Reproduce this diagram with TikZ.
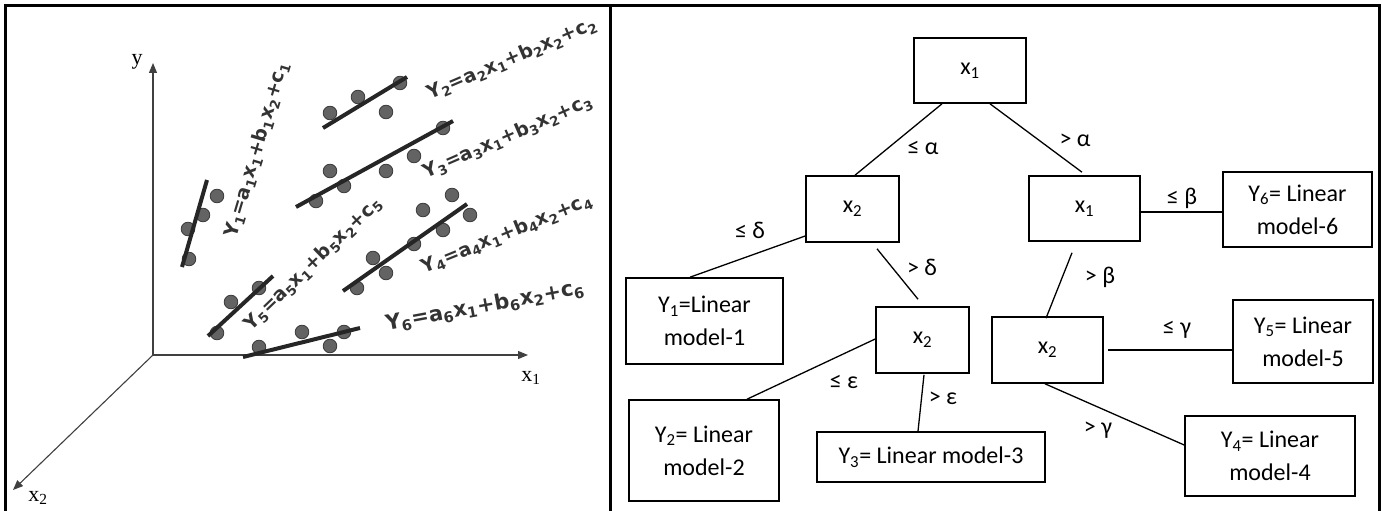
\documentclass[tikz,border=0pt]{standalone}
\usepackage{fontspec}
\setmainfont{Liberation Serif}
\newfontfamily\calib{Carlito}
\newfontfamily\eqf{DejaVu Sans}
\usetikzlibrary{arrows.meta,calc}
\definecolor{dotfill}{HTML}{636363}
\definecolor{dotline}{HTML}{3A3A3A}
\definecolor{fitcol}{HTML}{262626}
\definecolor{eqcol}{HTML}{333333}
\newcommand\ssb[1]{\textsubscript{#1}}
\tikzset{
  frameline/.style={line width=3pt, draw=black},
  axisln/.style={line width=1.1pt, draw=black!75, -{Triangle[length=10pt,width=8pt]}},
  dotsty/.style={fill=dotfill, draw=dotline, line width=0.8pt},
  fitln/.style={line width=4pt, draw=fitcol},
  eq/.style={font=\eqf\bfseries\fontsize{19}{22}\selectfont, text=eqcol, inner sep=0pt},
  box/.style={draw, line width=1.6pt, inner sep=0pt, align=center, font=\calib\fontsize{24}{33}\selectfont},
  conn/.style={line width=1.3pt},
  cond/.style={font=\calib\fontsize{24}{28}\selectfont, inner sep=0pt},
  axlabel/.style={font=\fontsize{22}{24}\selectfont, inner sep=0pt}
}
\begin{document}
\begin{tikzpicture}[x=1pt,y=-1pt]
\useasboundingbox (0,0) rectangle (1382,511);
% frames
\draw[frameline] (5,511) -- (5,6) -- (1379,6) -- (1379,511);
\draw[frameline] (610,6) -- (610,511);

% ---------- left panel ----------
\coordinate (O) at (153,355);
\coordinate (ytip) at (153,63);
\coordinate (x1tip) at (528,355);
\coordinate (x2tip) at (13,490);
\draw[axisln] (O) -- (ytip);
\draw[axisln] (O) -- (x1tip);
\draw[axisln] (O) -- (x2tip);
\node[axlabel] (ly) at (137,62) {y};
\node[axlabel] (lx1) at (531,378) {x\ssb{1}};
\node[axlabel] (lx2) at (38,498) {x\ssb{2}};

% dots
\foreach \p in {(217,196),(203,215),(188,229),(189,259),
  (330,113),(358,97),(386,112),(400,83),
  (330,171),(344,186),(316,201),(386,171),(414,156),(443,128),
  (423,210),(452,195),(470,215),(373,258),(386,273),(414,244),(443,230),(357,288),
  (217,333),(231,302),(259,288),
  (259,347),(302,332),(330,346),(344,332)}
  \filldraw[dotsty] \p circle (6.8);

% fitted lines
\draw[fitln] (207,180) -- (182,267);
\draw[fitln] (323,128) -- (407,77);
\draw[fitln] (296,207) -- (453,121);
\draw[fitln] (343,291) -- (467,204);
\draw[fitln] (208,336) -- (273,276);
\draw[fitln] (243,357) -- (360,328);

% equations
\node[eq, rotate=73.5] (eq1) at (257,150) {Y\ssb{1}=a\ssb{1}x\ssb{1}+b\ssb{1}x\ssb{2}+c\ssb{1}};
\node[eq, rotate=23] (eq2) at (512,59) {Y\ssb{2}=a\ssb{2}x\ssb{1}+b\ssb{2}x\ssb{2}+c\ssb{2}};
\node[eq, rotate=23.5] (eq3) at (508,137) {Y\ssb{3}=a\ssb{3}x\ssb{1}+b\ssb{3}x\ssb{2}+c\ssb{3}};
\node[eq, rotate=22] (eq4) at (507,234) {Y\ssb{4}=a\ssb{4}x\ssb{1}+b\ssb{4}x\ssb{2}+c\ssb{4}};
\node[eq, rotate=44] (eq5) at (313,264) {Y\ssb{5}=a\ssb{5}x\ssb{1}+b\ssb{5}x\ssb{2}+c\ssb{5}};
\node[eq, rotate=10.5, font=\eqf\bfseries\fontsize{21}{24}\selectfont] (eq6) at (485,306) {Y\ssb{6}=a\ssb{6}x\ssb{1}+b\ssb{6}x\ssb{2}+c\ssb{6}};

% ---------- right panel: tree ----------
\node[box, minimum width=112pt, minimum height=65pt] (root) at (970,70.5) {x\ssb{1}};
\node[box, minimum width=93pt, minimum height=66pt] (x2a) at (852.5,209) {x\ssb{2}};
\node[box, minimum width=111pt, minimum height=65pt] (x1b) at (1084.5,208.5) {x\ssb{1}};
\node[box, minimum width=149pt, minimum height=75pt] (y6) at (1297.5,209.5) {Y\ssb{6}= Linear\\model-6};
\node[box, minimum width=157pt, minimum height=86pt] (y1) at (704.5,321) {Y\ssb{1}=Linear\\model-1};
\node[box, minimum width=93pt, minimum height=66pt] (x2c) at (922.5,340) {x\ssb{2}};
\node[box, minimum width=150pt, minimum height=101pt] (y2) at (704,450.5) {Y\ssb{2}= Linear\\model-2};
\node[box, minimum width=228pt, minimum height=50pt] (y3) at (931,457) {Y\ssb{3}= Linear model-3};
\node[box, minimum width=111pt, minimum height=66pt] (x2d) at (1047.5,350) {x\ssb{2}};
\node[box, minimum width=140pt, minimum height=83pt] (y5) at (1303,341.5) {Y\ssb{5}= Linear\\model-5};
\node[box, minimum width=170pt, minimum height=80pt] (y4) at (1270,456) {Y\ssb{4}= Linear\\model-4};

\draw[conn] ($(root.south)+(-28,0)$) -- ($(x2a.north)+(2.5,0)$);
\draw[conn] ($(root.south)+(20,0)$) -- ($(x1b.north)+(-2.5,-3)$);
\draw[conn] ($(x2a.west)+(0,27)$) -- ($(y1.north)+(-14.5,0)$);
\draw[conn] ($(x2a.south)+(24.5,6)$) -- ($(x2c.north)+(-4.5,-7)$);
\draw[conn] ($(x1b.east)+(0,3.5)$) -- ($(y6.west)+(0,2.5)$);
\draw[conn] ($(x1b.south)+(-12.5,11)$) -- ($(x2d.north)+(-1.5,2)$);
\draw[conn] ($(x2c.west)+(0,-1)$) -- ($(y2.north)+(43,0)$);
\draw[conn] ($(x2c.south)+(1.5,1)$) -- ($(y3.north)+(-13,0)$);
\draw[conn] ($(x2d.east)+(4,0)$) -- ($(y5.west)+(0,8.5)$);
\draw[conn] ($(x2d.south)+(-2.5,0)$) -- ($(y4.west)+(0,-11)$);

\node[cond] (la) at (923,148) {≤ α};
\node[cond] (lb) at (1075,140) {> α};
\node[cond] (lc) at (750,230) {≤ δ};
\node[cond] (ld) at (922,267) {> δ};
\node[cond] (le) at (1182,198) {≤ β};
\node[cond] (lf) at (1100,277) {> β};
\node[cond] (lg) at (844,382) {≤ ε};
\node[cond] (lh) at (943,398) {> ε};
\node[cond] (li) at (1177,330) {≤ γ};
\node[cond] (lj) at (1098,430) {> γ};
\end{tikzpicture}
\end{document}
